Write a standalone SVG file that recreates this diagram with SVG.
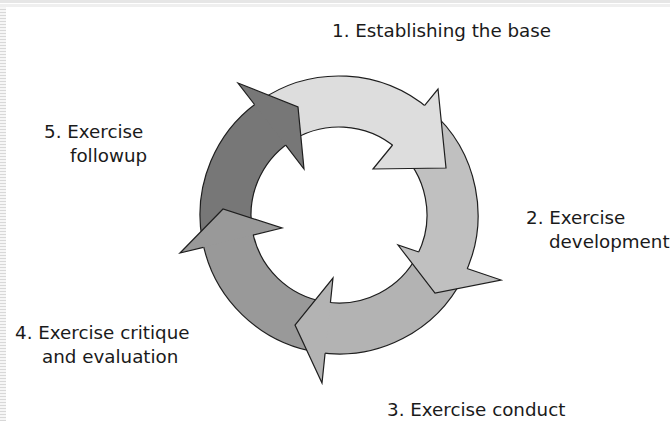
<svg xmlns="http://www.w3.org/2000/svg" width="670" height="421" viewBox="0 0 670 421">
<defs>
<pattern id="stripes" x="0" y="0" width="6" height="3" patternUnits="userSpaceOnUse">
<rect x="0" y="0" width="6" height="3" fill="#f6f6f6"/>
<rect x="0" y="0" width="6" height="1" fill="#d8d8d8"/>
</pattern>
</defs>
<style>
.body{stroke:#1e1e1e;stroke-width:1.2;stroke-linejoin:round}
.edge{fill:none;stroke:#1e1e1e;stroke-width:1.2;stroke-linejoin:miter}
.a1{fill:#dddddd}.a2{fill:#c0c0c0}.a3{fill:#b3b3b3}.a4{fill:#999999}.a5{fill:#777777}
.lbl{font-family:"DejaVu Sans","Liberation Sans",sans-serif;font-size:18.3px;fill:#1a1a1a}
</style>
<rect width="670" height="421" fill="#ffffff"/>
<rect x="0" y="0" width="670" height="3" fill="#e6e6e6"/>
<rect x="0" y="4" width="670" height="3" fill="#efefef"/>
<rect x="0" y="7" width="6" height="414" fill="url(#stripes)"/>
<g id="connectors">
<path class="body a1" d="M260.5,100.3 A139,139 0 0 1 429.6,109.6 L396.4,148.3 A88,88 0 0 0 289.3,142.4 Z"/>
<path class="body a2" d="M429.6,109.6 A139,139 0 0 1 463.1,277.7 L417.5,254.7 A88,88 0 0 0 396.4,148.3 Z"/>
<path class="body a3" d="M463.1,277.7 A139,139 0 0 1 318.2,352.4 L325.8,302.0 A88,88 0 0 0 417.5,254.7 Z"/>
<path class="body a4" d="M318.2,352.4 A139,139 0 0 1 202.2,239.6 L252.4,230.6 A88,88 0 0 0 325.8,302.0 Z"/>
<path class="body a5" d="M202.2,239.6 A139,139 0 0 1 260.5,100.3 L289.3,142.4 A88,88 0 0 0 252.4,230.6 Z"/>
<g id="head1">
<polygon class="a1" points="438,89 446,168 373,169"/>
<polyline class="edge" points="424.7,105.3 438,89 446,168 373,169 392.6,145"/>
</g>
<g id="head2">
<polygon class="a2" points="501,280 435,293 398,245"/>
<polyline class="edge" points="467,268.5 501,280 435,293 398,245 418.8,252"/>
</g>
<g id="head3">
<polygon class="a3" points="322,383 295,325 333,278"/>
<polyline class="edge" points="325.1,353.3 322,383 295,325 333,278 330.4,302.8"/>
</g>
<g id="head4">
<polygon class="a4" points="180,253 223,209 282,228"/>
<polyline class="edge" points="203.3,247.3 180,253 223,209 282,228 252.9,235.1"/>
</g>
<g id="head5">
<polygon class="a5" points="238,83 298,107 304,169"/>
<polyline class="edge" points="254.5,104.5 238,83 298,107 304,169 285.7,145.1"/>
</g>
</g>
<g id="node1"><text class="lbl" x="332" y="37">1. Establishing the base</text></g>
<g id="node2"><text class="lbl" x="526" y="224">2. Exercise</text><text class="lbl" x="549" y="248">development</text></g>
<g id="node3"><text class="lbl" x="387" y="416">3. Exercise conduct</text></g>
<g id="node4"><text class="lbl" x="15" y="339">4. Exercise critique</text><text class="lbl" x="42" y="363">and evaluation</text></g>
<g id="node5"><text class="lbl" x="44" y="138">5. Exercise</text><text class="lbl" x="70" y="162">followup</text></g>
</svg>
